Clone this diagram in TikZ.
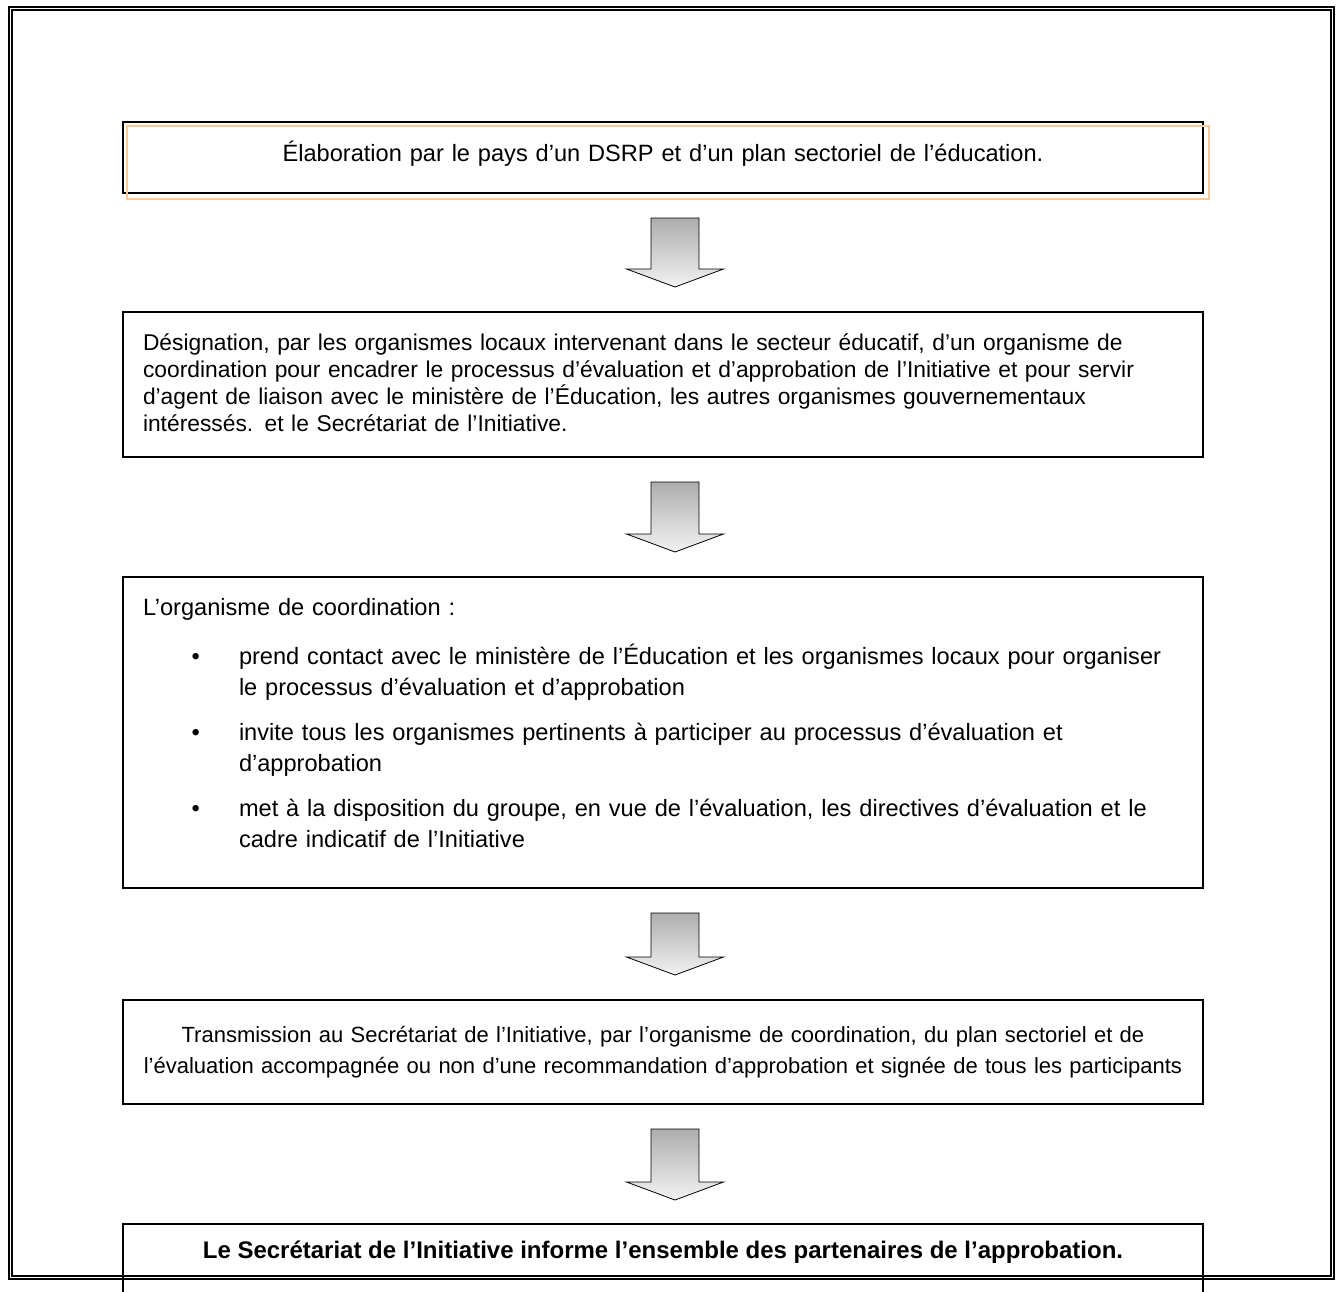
\documentclass[tikz,border=0pt]{standalone}
\usepackage{fontspec}
\setmainfont{Liberation Sans}
\usetikzlibrary{positioning,calc}
\definecolor{peche}{RGB}{255,201,148}

\begin{document}
\begin{tikzpicture}[x=0.5pt,y=-0.5pt,
  etape/.style={draw,line width=1pt,inner xsep=10pt,inner ysep=0pt,text width=520pt,font=\fontsize{11.4pt}{13.5pt}\selectfont},
  fleche/.style={draw=black,line width=0.4pt,top color=black!32,bottom color=black!5},
  cadre/.style={line width=1pt}]
\useasboundingbox (0,0) rectangle (1338,1291);
\clip (0,0) rectangle (1338,1291);
\draw[cadre,double=white,double distance=0.5pt] (10.5,8.5) rectangle (1332.5,1277.5);

\node[etape,align=center,minimum height=35.5pt,font=\fontsize{11.8pt}{13.5pt}\selectfont] (b1) at (663,157.5)
  {Élaboration par le pays d’un DSRP et d’un plan sectoriel de l’éducation.\par\kern4pt\hrule height0pt width0pt};
\node[etape,align=left,minimum height=72.5pt,below=58.5pt of b1] (b2)
  {Désignation, par les organismes locaux intervenant dans le secteur éducatif, d’un organisme de\\
   coordination pour encadrer le processus d’évaluation et d’approbation de l’Initiative et pour servir\\
   d’agent de liaison avec le ministère de l’Éducation, les autres organismes gouvernementaux\\
   intéressés. et le Secrétariat de l’Initiative.\par\kern2pt\hrule height0pt width0pt};
\node[etape,align=left,minimum height=155.5pt,below=59pt of b2,font=\fontsize{11.8pt}{15.5pt}\selectfont] (b3)
  {L’organisme de coordination :
   \begin{list}{\textbullet}{\setlength\leftmargin{48pt}\setlength\labelwidth{10pt}\setlength\labelsep{19.5pt}%
     \setlength\topsep{9pt}\setlength\itemsep{7pt}\setlength\parsep{0pt}\setlength\partopsep{0pt}}
   \item prend contact avec le ministère de l’Éducation et les organismes locaux pour organiser\\
         le processus d’évaluation et d’approbation
   \item invite tous les organismes pertinents à participer au processus d’évaluation et\\
         d’approbation
   \item met à la disposition du groupe, en vue de l’évaluation, les directives d’évaluation et le\\
         cadre indicatif de l’Initiative
   \end{list}\vspace*{12pt}};
\node[etape,align=center,inner xsep=0pt,text width=540pt,minimum height=52pt,below=55pt of b3,font=\fontsize{11pt}{15.5pt}\selectfont] (b4)
  {Transmission au Secrétariat de l’Initiative, par l’organisme de coordination, du plan sectoriel et de\\
   l’évaluation accompagnée ou non d’une recommandation d’approbation et signée de tous les participants\par\vspace*{3pt}};
\node[minimum width=540pt,minimum height=28pt,inner sep=0pt,below=59.5pt of b4,font=\fontsize{12pt}{14pt}\selectfont\bfseries] (b5)
  {Le Secrétariat de l’Initiative informe l’ensemble des partenaires de l’approbation.};

% cadre decale du premier encadre, et cadre ouvert du dernier
\draw[peche,line width=1pt] ([shift={(5,5)}]b1.south west) rectangle ([shift={(5,5)}]b1.north east);
\draw[line width=1pt] ([yshift=-20pt]b5.south west) |- (b5.north east) -- ([yshift=-20pt]b5.south east);

% fleches pleines entre les etapes
\foreach \a/\b in {b1/b2,b2/b3,b3/b4,b4/b5}
  \path[fleche] let \p1=(\a.south), \p2=(\b.north) in
    (\x1-6pt,\y1-12pt) -- (\x1+18pt,\y1-12pt) -- (\x1+18pt,\y2+21pt) -- (\x1+30.25pt,\y2+21pt)
    -- (\x1+6pt,\y2+12pt) -- (\x1-18.25pt,\y2+21pt) -- (\x1-6pt,\y2+21pt) -- cycle;
\end{tikzpicture}
\end{document}
